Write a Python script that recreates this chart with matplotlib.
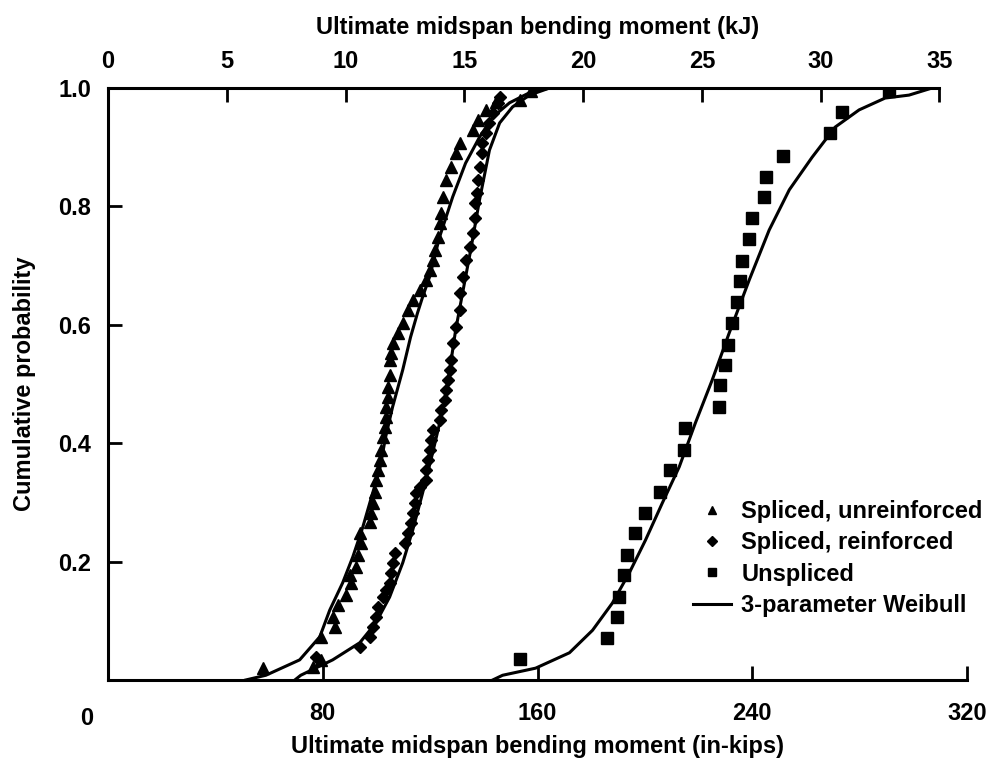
import numpy as np
import matplotlib
matplotlib.use('Agg')
import matplotlib.pyplot as plt

plt.rcParams['font.family'] = ['Liberation Sans', 'DejaVu Sans']
plt.rcParams['font.weight'] = 'bold'

KJ_PER_INKIP = 0.113

# Spliced, unreinforced (triangles)
UNREINF_X = [57.7, 76.3, 79.3, 79.3, 84.5, 83.7, 85.6, 88.6, 90.4, 90.0, 92.3, 93.0, 94.1,
             93.8, 97.5, 97.9, 98.6, 99.3, 99.7, 100.5, 101.2, 101.6, 102.3, 103.1, 103.4,
             103.4, 104.2, 104.2, 104.9, 104.9, 105.3, 106.0, 107.9, 109.8, 111.6, 113.5,
             116.1, 118.3, 119.8, 120.9, 122.0, 122.8, 123.5, 123.9, 124.7, 125.8, 127.6,
             129.5, 131.0, 135.8, 137.7, 140.7, 144.4, 153.3, 157.4]
UNREINF_P = [0.020, 0.022, 0.034, 0.073, 0.090, 0.106, 0.127, 0.144, 0.164, 0.177, 0.191,
             0.211, 0.231, 0.248, 0.267, 0.282, 0.299, 0.318, 0.338, 0.355, 0.372, 0.389,
             0.410, 0.427, 0.444, 0.461, 0.478, 0.495, 0.515, 0.541, 0.552, 0.569, 0.586,
             0.603, 0.625, 0.642, 0.659, 0.676, 0.693, 0.709, 0.726, 0.748, 0.772, 0.789,
             0.816, 0.845, 0.867, 0.890, 0.907, 0.929, 0.946, 0.963, 0.976, 0.980, 0.995]

# Spliced, reinforced (diamonds)
REINF_X = [77.4, 93.8, 97.5, 98.6, 99.7, 100.5, 102.3, 103.4, 104.9, 105.3, 106.0, 106.8,
           110.5, 111.6, 112.7, 113.5, 114.2, 114.6, 116.1, 118.3, 118.3, 119.1, 119.8,
           120.2, 120.9, 123.5, 123.9, 125.4, 125.8, 126.5, 127.3, 127.6, 128.4, 129.5,
           131.0, 131.3, 132.1, 133.2, 134.7, 135.8, 136.6, 136.9, 137.3, 137.7, 138.4,
           139.5, 139.5, 140.7, 142.1, 143.3, 145.1, 145.9]
REINF_P = [0.039, 0.056, 0.073, 0.090, 0.106, 0.123, 0.140, 0.152, 0.164, 0.181, 0.198,
           0.215, 0.231, 0.248, 0.265, 0.282, 0.299, 0.316, 0.326, 0.338, 0.355, 0.372,
           0.389, 0.405, 0.422, 0.439, 0.456, 0.473, 0.490, 0.507, 0.524, 0.541, 0.569,
           0.596, 0.625, 0.654, 0.681, 0.709, 0.731, 0.755, 0.780, 0.806, 0.823, 0.845,
           0.867, 0.890, 0.907, 0.924, 0.941, 0.958, 0.975, 0.985]

# Unspliced (squares)
UNSPL_X = [153.3, 186.0, 189.8, 190.5, 192.4, 193.5, 196.5, 200.2, 205.8, 209.5, 214.7,
           215.1, 227.7, 228.1, 230.0, 231.1, 232.6, 234.4, 235.5, 236.3, 238.9, 240.0,
           244.5, 245.2, 251.5, 269.0, 273.5, 291.0]
UNSPL_P = [0.035, 0.071, 0.106, 0.140, 0.177, 0.211, 0.248, 0.282, 0.318, 0.355, 0.389,
           0.426, 0.461, 0.498, 0.532, 0.566, 0.603, 0.639, 0.674, 0.708, 0.745, 0.780,
           0.816, 0.850, 0.885, 0.924, 0.959, 0.995]

# 3-parameter Weibull fits
FIT_UNREINF_X = [51.3, 58.8, 71.4, 78.9, 82.6, 87.4, 91.2, 94.9, 98.6, 101.2, 103.4, 106.0,
                 109.8, 112.7, 115.3, 117.2, 119.8, 123.5, 128.4, 133.2, 138.4,
                 143.3, 149.6, 157.0, 164.5]
FIT_UNREINF_P = [0.0, 0.008, 0.034, 0.073, 0.118, 0.164, 0.208, 0.258, 0.316, 0.355, 0.410,
                 0.461, 0.524, 0.579, 0.620, 0.647, 0.681, 0.748, 0.816, 0.873, 0.917,
                 0.951, 0.975, 0.992, 1.0]
FIT_REINF_X = [69.6, 71.8, 83.7, 93.8, 99.7, 104.9, 109.8, 113.5, 117.2, 120.9, 124.7, 127.3,
               129.5, 132.1, 135.1, 138.4, 142.1, 145.9, 150.7, 157.0, 164.5]
FIT_REINF_P = [0.0, 0.008, 0.034, 0.063, 0.096, 0.140, 0.198, 0.253, 0.316, 0.383, 0.456,
               0.524, 0.591, 0.654, 0.726, 0.811, 0.895, 0.941, 0.968, 0.988, 1.0]
FIT_UNSPL_X = [143.3, 147.0, 159.3, 171.9, 180.5, 187.9, 194.2, 200.2, 206.5, 212.8, 218.8,
               225.1, 231.4, 238.9, 246.3, 253.8, 262.3, 270.9, 279.8, 289.5, 298.4, 307.0]
FIT_UNSPL_P = [0.0, 0.008, 0.020, 0.046, 0.084, 0.130, 0.181, 0.236, 0.299, 0.360, 0.434,
               0.507, 0.586, 0.676, 0.760, 0.828, 0.883, 0.934, 0.963, 0.983, 0.988, 1.0]

X_TICKS = [80, 160, 240, 320]
X_TICK_LABELS = ['80', '160', '240', '320']
Y_TICKS = [0.2, 0.4, 0.6, 0.8, 1.0]
KJ_TICKS = [0, 5, 10, 15, 20, 25, 30, 35]

FS = 17

fig = plt.figure(figsize=(9.88, 7.66), dpi=100)
ax = fig.add_axes([108 / 988, 1 - 680 / 766, (967 - 108) / 988, (680 - 88) / 766])

ax.plot(UNREINF_X, UNREINF_P, '^', color='black', markersize=8, label='Spliced, unreinforced')
ax.plot(REINF_X, REINF_P, 'D', color='black', markersize=6.5, label='Spliced, reinforced')
ax.plot(UNSPL_X, UNSPL_P, 's', color='black', markersize=8, label='Unspliced')
ax.plot(FIT_UNREINF_X, FIT_UNREINF_P, '-', color='black', lw=2.2, label='3-parameter Weibull')
ax.plot(FIT_REINF_X, FIT_REINF_P, '-', color='black', lw=2.2)
ax.plot(FIT_UNSPL_X, FIT_UNSPL_P, '-', color='black', lw=2.2)

ax.set_xlim(0, 320)
ax.set_ylim(0, 1.0)
ax.set_xticks(X_TICKS)
ax.set_xticklabels(X_TICK_LABELS)
ax.set_yticks(Y_TICKS)
ax.set_yticklabels(['%.1f' % v for v in Y_TICKS])
ax.tick_params(axis='both', direction='in', length=10, width=2, labelsize=FS)
ax.tick_params(axis='x', pad=16)
ax.tick_params(axis='y', pad=12)
ax.text(-0.025, -0.065, '0', transform=ax.transAxes, fontsize=FS, fontweight='bold',
        ha='center', va='center')

ax.spines['right'].set_visible(False)
ax.spines['top'].set_visible(False)
ax.spines['left'].set_linewidth(2.2)
ax.spines['bottom'].set_linewidth(2.2)

ax.set_xlabel('Ultimate midspan bending moment (in-kips)', fontsize=FS, fontweight='bold',
              labelpad=7)
ax.set_ylabel('Cumulative probability', fontsize=FS, fontweight='bold', labelpad=16)

ax2 = ax.twiny()
ax2.set_xlim(0, 320 * KJ_PER_INKIP)
ax2.set_xticks(KJ_TICKS)
ax2.tick_params(axis='x', direction='in', length=10, width=2, labelsize=FS, pad=11)
for side in ['right', 'left', 'bottom']:
    ax2.spines[side].set_visible(False)
ax2.spines['top'].set_linewidth(2.2)
ax2.spines['top'].set_bounds(0, 35)
ax2.set_xlabel('Ultimate midspan bending moment (kJ)', fontsize=FS, fontweight='bold',
               labelpad=11)

ax.legend(loc='upper left', bbox_to_anchor=(693 / 988, 1 - 500 / 766),
          bbox_transform=fig.transFigure, frameon=False, fontsize=FS, borderpad=0,
          borderaxespad=0, handlelength=1.6, handletextpad=0.45, labelspacing=0.35,
          markerscale=0.75)

fig.savefig('out.png', dpi=100)
